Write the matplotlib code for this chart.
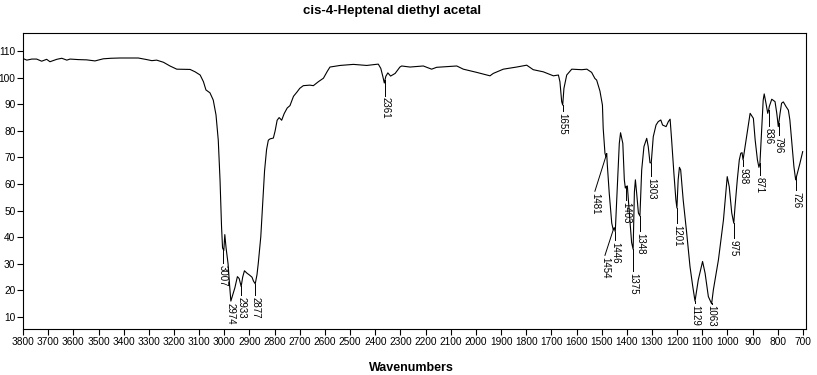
import numpy as np
import matplotlib
matplotlib.use("Agg")
import matplotlib.pyplot as plt

plt.rcParams['font.family'] = ['Liberation Sans', 'DejaVu Sans']

# IR spectrum (wavenumber, % transmittance)
wavenumber = [
    3800, 3785, 3765, 3746, 3726, 3706, 3693, 3666, 3646, 3626, 3613, 3580, 3547, 3514,
    3481, 3450, 3414, 3342, 3308, 3288, 3269, 3242, 3216, 3189, 3136, 3116, 3096, 3083,
    3073, 3057, 3044, 3033, 3024, 3017, 3011, 3007, 3002, 2998, 2993, 2985, 2979, 2974,
    2966, 2958, 2948, 2941, 2933, 2927, 2920, 2910, 2900, 2890, 2884, 2877, 2870, 2865,
    2855, 2848, 2840, 2832, 2825, 2818, 2805, 2798, 2790, 2782, 2772, 2762, 2750, 2739,
    2725, 2712, 2700, 2686, 2660, 2646, 2626, 2606, 2590, 2580, 2540, 2487, 2434, 2388,
    2378, 2370, 2364, 2358, 2350, 2339, 2321, 2302, 2295, 2262, 2209, 2176, 2156, 2076,
    2050, 1997, 1944, 1931, 1891, 1838, 1798, 1772, 1732, 1692, 1672, 1666, 1659, 1655,
    1650, 1639, 1619, 1579, 1559, 1540, 1527, 1520, 1507, 1497, 1494, 1487, 1483, 1480,
    1478, 1470, 1460, 1454, 1450, 1446, 1438, 1430, 1425, 1416, 1410, 1406, 1403, 1398,
    1394, 1387, 1381, 1375, 1370, 1366, 1361, 1354, 1348, 1341, 1332, 1321, 1315, 1308,
    1303, 1295, 1284, 1275, 1265, 1258, 1244, 1235, 1228, 1222, 1213, 1205, 1201, 1196,
    1191, 1186, 1176, 1162, 1149, 1138, 1129, 1116, 1099, 1089, 1076, 1063, 1056, 1036,
    1016, 1001, 993, 983, 975, 970, 961, 953, 947, 942, 938, 930, 920, 910,
    897, 890, 881, 875, 871, 864, 858, 854, 847, 840, 836, 834, 824, 811,
    804, 798, 791, 785, 778, 767, 758, 752, 745, 736, 729, 722, 712, 701,
]
transmittance = [
    107.2, 106.6, 107.0, 107.0, 106.2, 106.9, 106.0, 106.9, 107.3, 106.6, 107.0, 106.8, 106.7, 106.3,
    107.1, 107.3, 107.4, 107.4, 106.8, 106.4, 106.6, 105.8, 104.4, 103.2, 103.1, 102.2, 101.0, 98.5,
    95.4, 94.3, 91.6, 86.0, 76.5, 61.5, 44.0, 36.0, 35.0, 41.0, 36.0, 30.0, 22.0, 16.0,
    18.5, 21.0, 25.2, 24.5, 21.5, 25.0, 27.4, 26.5, 25.8, 25.0, 23.5, 22.5, 26.0, 30.2,
    40.2, 52.0, 65.0, 73.0, 76.5, 77.0, 77.3, 80.0, 84.0, 85.0, 84.0, 86.5, 88.6, 89.5,
    93.0, 94.5, 96.0, 97.0, 97.2, 97.0, 98.5, 99.8, 102.5, 104.0, 104.6, 105.0, 104.6, 105.1,
    103.5, 100.5, 98.0, 100.5, 101.8, 100.6, 101.6, 104.0, 104.4, 104.0, 104.4, 103.2, 103.9, 104.4,
    103.2, 102.0, 100.7, 101.6, 103.2, 104.0, 104.7, 103.0, 102.2, 100.7, 101.0, 98.5, 91.0, 89.7,
    96.0, 101.0, 103.2, 103.0, 103.2, 102.0, 99.7, 99.1, 95.0, 89.7, 81.0, 71.6, 70.3, 71.5,
    67.8, 56.6, 45.3, 42.8, 43.6, 42.1, 59.0, 75.3, 79.3, 75.3, 61.6, 58.5, 59.0, 59.3,
    54.0, 45.3, 38.0, 35.5, 57.0, 61.6, 56.6, 49.1, 48.0, 65.3, 74.1, 77.2, 74.1, 68.0,
    68.0, 77.8, 82.2, 83.5, 84.1, 82.2, 81.6, 83.5, 84.4, 76.6, 64.1, 54.0, 51.0, 61.6,
    66.3, 65.3, 54.0, 41.5, 29.0, 21.5, 16.0, 24.0, 30.9, 26.5, 17.7, 15.0, 20.3, 31.5,
    46.5, 62.8, 59.0, 49.1, 45.3, 51.5, 61.6, 69.1, 71.6, 71.8, 69.1, 74.1, 80.3, 86.6,
    84.7, 76.6, 69.1, 66.3, 67.8, 80.3, 91.6, 93.9, 90.4, 86.6, 88.0, 89.1, 91.9, 91.0,
    86.6, 81.6, 86.6, 90.4, 90.9, 89.1, 87.8, 84.1, 76.6, 66.6, 61.6, 64.1, 67.8, 72.2,
]

# peak labels: position, where the label text starts, and where it sits on x
peak_wn = [3007, 2974, 2933, 2877, 2361, 1655, 1481, 1454, 1446, 1403, 1375,
           1348, 1303, 1201, 1129, 1063, 975, 938, 871, 836, 796, 726]
label_top = [29.6, 15.4, 17.6, 17.6, 92.7, 86.7, 56.7, 32.6, 38.3, 53.3, 26.6,
             41.7, 62.3, 44.7, 14.6, 14.6, 39.0, 66.1, 62.7, 81.1, 77.7, 57.1]
label_x = [3007, 2974, 2933, 2877, 2361, 1655, 1527, 1487, 1446, 1403, 1375,
           1348, 1303, 1201, 1129, 1063, 975, 938, 871, 836, 796, 726]

fig = plt.figure(figsize=(8.17, 3.75), dpi=100)
ax = fig.add_axes([0.0282, 0.1219, 0.9583, 0.7901])

ax.plot(wavenumber, transmittance, color='black', lw=0.8)

wn_asc = np.array(wavenumber)[::-1]
tr_asc = np.array(transmittance)[::-1]
for wn, top, lx in zip(peak_wn, label_top, label_x):
    y0 = np.interp(wn, wn_asc, tr_asc)
    ax.plot([wn, lx], [y0, top + 0.6], color='black', lw=0.7)
    ax.text(lx, top, str(wn), rotation=270, ha='center', va='top', fontsize=7)

ax.set_xlim(3800, 688)
ax.set_ylim(5.4, 116.8)
ax.set_xticks(np.arange(3800, 699, -100))
ax.set_yticks(np.arange(10, 111, 10))
ax.tick_params(direction='out', length=4, width=0.8, labelsize=7.3, pad=1.5)
for s in ax.spines.values():
    s.set_linewidth(0.8)

fig.text(392 / 817, 1 - 11 / 375, 'cis-4-Heptenal diethyl acetal', ha='center', va='center',
         fontsize=9.5, fontweight='bold')
fig.text(411 / 817, 1 - 368 / 375, 'Wavenumbers', ha='center', va='center',
         fontsize=9, fontweight='bold')

fig.savefig('out.png', dpi=100)
